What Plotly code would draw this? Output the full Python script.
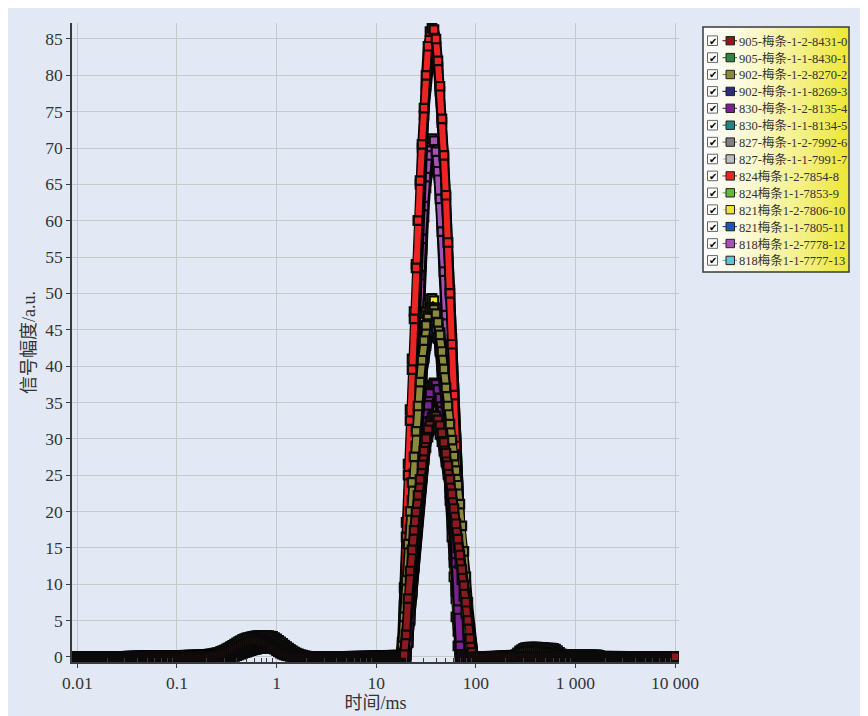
import numpy as np
import plotly.graph_objects as go

# T2 sampling grid of the inversion (ms), 50 points per decade
T2_GRID = np.logspace(-2, 4, 301)

SERIES_NAMES = [
    "905-梅条-1-2-8431-0", "905-梅条-1-1-8430-1", "902-梅条-1-2-8270-2",
    "902-梅条-1-1-8269-3", "830-梅条-1-2-8135-4", "830-梅条-1-1-8134-5",
    "827-梅条-1-2-7992-6", "827-梅条-1-1-7991-7", "824梅条1-2-7854-8",
    "824梅条1-1-7853-9", "821梅条1-2-7806-10", "821梅条1-1-7805-11",
    "818梅条1-2-7778-12", "818梅条1-1-7777-13",
]

# first T2 value (ms) of each stored segment; everything else is 0
BUMP_A_FROM = 0.1585
PEAK_FROM = 15.85
BUMP_B_FROM = 239.9

# small component around 1 ms
bump_a_0 = [0]*8 + [0.04,0.08,0.13,0.19,0.26,0.34,0.43,0.53,0.64,0.76,0.89,1.03,1.18,1.33,1.48,1.63,1.77,1.9,2.01,2.1,2.16,2.2,2.2,2.19,2.15,2.08,1.98,1.85,1.7,1.53,1.35,1.16,0.97,0.79,0.62,0.47,0.35,0.25,0.17,0.11,0.06,0.03,0.01]
bump_a_1 = [0]*10 + [0.04,0.08,0.13,0.19,0.26,0.34,0.43,0.53,0.64,0.76,0.89,1.02,1.15,1.28,1.41,1.53,1.64,1.73,1.8,1.85,1.88,1.9,1.9,1.88,1.84,1.77,1.68,1.56,1.42,1.27,1.1,0.93,0.76,0.6,0.46,0.34,0.24,0.16,0.1,0.05,0.02,0.01]
bump_a_2 = [0]*4 + [0.03,0.06,0.1,0.15,0.21,0.28,0.36,0.45,0.55,0.66,0.78,0.91,1.05,1.2,1.36,1.53,1.7,1.87,2.03,2.18,2.31,2.42,2.51,2.57,2.6,2.6,2.58,2.53,2.45,2.34,2.2,2.03,1.84,1.63,1.41,1.19,0.98,0.78,0.61,0.46,0.34,0.25,0.18,0.12,0.08,0.05,0.03,0.02,0.01,0.01]
bump_a_3 = [0]*6 + [0.04,0.08,0.13,0.19,0.26,0.34,0.43,0.53,0.64,0.76,0.89,1.03,1.18,1.34,1.5,1.66,1.82,1.97,2.1,2.21,2.3,2.36,2.4,2.4,2.38,2.33,2.25,2.14,2.0,1.84,1.66,1.46,1.25,1.04,0.84,0.66,0.5,0.37,0.27,0.19,0.13,0.08,0.05,0.03,0.02,0.01]
bump_a_4 = [0.05,0.1,0.15,0.2,0.25,0.3,0.35,0.4,0.45,0.5,0.55,0.6,0.7,0.8,0.9,1.05,1.2,1.35,1.5,1.65,1.8,1.95,2.1,2.25,2.4,2.5,2.6,2.7,2.8,2.85,2.9,2.9,2.9,2.9,2.9,2.9,2.9,2.85,2.8,2.65,2.45,2.25,2.05,1.85,1.6,1.4,1.2,1.0,0.8,0.65,0.5,0.4,0.3,0.22,0.15,0.1,0.05,0]
bump_a_5 = [0]*2 + [0.03,0.06,0.1,0.14,0.19,0.25,0.32,0.4,0.49,0.59,0.7,0.82,0.95,1.09,1.24,1.4,1.57,1.74,1.91,2.08,2.24,2.38,2.5,2.59,2.65,2.69,2.7,2.7,2.68,2.63,2.55,2.44,2.3,2.13,1.94,1.73,1.51,1.29,1.08,0.88,0.7,0.54,0.41,0.31,0.23,0.17,0.12,0.08,0.05,0.03,0.02,0.01]
bump_a_6 = [0]*14 + [0.05,0.1,0.18,0.26,0.35,0.45,0.55,0.66,0.77,0.88,0.99,1.1,1.2,1.28,1.35,1.41,1.45,1.48,1.5,1.5,1.49,1.46,1.41,1.34,1.25,1.14,1.02,0.89,0.76,0.63,0.51,0.4,0.3,0.21,0.14,0.08,0.04,0.01]
bump_a_7 = [0]*12 + [0.04,0.09,0.15,0.22,0.3,0.39,0.49,0.6,0.72,0.84,0.96,1.08,1.2,1.31,1.41,1.5,1.57,1.63,1.67,1.7,1.7,1.69,1.66,1.6,1.52,1.42,1.3,1.16,1.01,0.86,0.71,0.57,0.44,0.33,0.23,0.15,0.09,0.05,0.02,0.01]
bump_a_8 = [0]*17 + [0.05,0.12,0.2,0.3,0.4,0.5,0.6,0.7,0.8,0.9,1.0,1.08,1.15,1.21,1.26,1.3,1.33,1.35,1.35,1.34,1.3,1.24,1.16,1.06,0.95,0.84,0.72,0.6,0.5,0.4,0.31,0.23,0.16,0.1,0.05,0.02]
bump_a_9 = [0]*19 + [0.05,0.15,0.25,0.35,0.45,0.55,0.65,0.75,0.85,0.93,1.0,1.06,1.1,1.14,1.17,1.19,1.2,1.2,1.18,1.14,1.08,1.0,0.9,0.8,0.7,0.6,0.5,0.4,0.32,0.25,0.18,0.12,0.07,0.03]
bump_a_10 = [0]*10 + [0.05,0.1,0.16,0.23,0.31,0.4,0.5,0.61,0.73,0.86,1.0,1.14,1.28,1.42,1.55,1.67,1.77,1.86,1.93,1.97,2.0,2.0,1.99,1.96,1.9,1.82,1.71,1.58,1.43,1.27,1.1,0.92,0.75,0.59,0.45,0.33,0.23,0.15,0.09,0.05,0.02,0.01]
bump_a_11 = [0]*12 + [0.05,0.1,0.17,0.25,0.34,0.44,0.55,0.67,0.79,0.92,1.05,1.18,1.3,1.42,1.52,1.61,1.68,1.74,1.78,1.8,1.8,1.79,1.75,1.69,1.6,1.49,1.36,1.22,1.07,0.91,0.76,0.61,0.48,0.36,0.26,0.17,0.1,0.05,0.02,0.01]
bump_a_12 = [0]*14 + [0.04,0.1,0.17,0.25,0.34,0.44,0.55,0.67,0.79,0.91,1.03,1.15,1.26,1.36,1.44,1.5,1.55,1.58,1.6,1.6,1.59,1.56,1.5,1.42,1.32,1.2,1.07,0.93,0.79,0.65,0.52,0.4,0.3,0.21,0.14,0.08,0.04,0.01]
bump_a_13 = [0]*7 + [0.03,0.07,0.12,0.18,0.25,0.33,0.42,0.52,0.63,0.75,0.88,1.02,1.17,1.32,1.48,1.64,1.79,1.93,2.05,2.15,2.22,2.27,2.3,2.3,2.28,2.23,2.15,2.04,1.9,1.74,1.56,1.37,1.17,0.98,0.8,0.63,0.48,0.36,0.26,0.18,0.12,0.07,0.04,0.02,0.01]

# main peak, 15.85 ms to 100 ms
peak_0 = [0,0,0,0,0.3,3.0,8.0,11.8,14.7,17.4,19.9,22.2,24.4,26.4,28.3,30.0,31.4,32.4,33.0,33.2,33.1,32.6,31.8,30.8,29.5,28.0,26.3,24.4,22.4,20.4,18.3,16.2,14.0,12.0,9.8,7.5,5.0,2.5,0.6,0,0]
peak_1 = [0,0,0,0,0.5,3.0,6.8,10.2,13.2,16.0,18.5,20.9,23.1,25.2,27.1,28.8,30.2,31.2,31.8,32.0,31.9,31.4,30.6,29.6,28.3,26.8,25.1,23.2,21.2,19.2,17.1,15.0,12.8,10.6,8.3,6.0,3.6,1.5,0.2,0,0]
peak_2 = [0,0,0,1.5,5.5,10.5,15.5,20.0,24.0,27.5,31.0,34.5,37.8,40.8,43.5,45.6,47.0,47.8,48.0,47.8,47.2,46.0,44.3,42.0,39.6,37.0,34.5,32.0,29.8,27.6,25.6,23.6,21.0,18.0,14.5,11.0,7.5,4.0,1.2,0,0]
peak_3 = [0,0,0,0.5,3.5,8.0,13.0,17.5,21.5,25.2,28.8,32.3,35.6,38.6,41.2,43.3,44.8,45.7,46.0,45.8,45.1,43.9,42.2,40.0,37.5,34.8,32.0,29.3,26.8,24.4,22.0,19.6,17.0,14.0,10.8,7.5,4.3,1.5,0,0,0]
peak_4 = [0,0,0,0,0,0.3,2.0,5.2,9.0,12.8,16.5,20.0,23.4,26.6,29.6,32.3,34.6,36.3,37.4,37.7,37.5,36.8,35.6,33.8,31.6,29.2,26.8,24.5,22.0,18.5,13.0,6.5,1.5,0,0,0,0,0,0,0,0]
peak_5 = [0,0,0,0,0,0.3,2.0,5.0,8.6,12.3,15.9,19.3,22.6,25.8,28.7,31.3,33.5,35.2,36.2,36.5,36.3,35.7,34.5,32.8,30.7,28.4,26.0,23.6,21.0,17.5,12.5,6.5,1.8,0,0,0,0,0,0,0,0]
peak_6 = [0,0,0,0,0,0,3.0,10.0,17.0,23.5,29.0,33.5,37.0,40.0,42.5,44.3,45.5,46.2,46.5,46.5,46.2,45.6,44.6,43.0,40.5,37.0,32.5,27.0,21.0,15.0,9.5,5.0,1.8,0.3,0,0,0,0,0,0,0]
peak_7 = [0,0,0,0,0,0,2.0,8.5,15.5,22.0,27.5,32.0,35.6,38.6,41.0,42.8,44.0,44.8,45.0,45.0,44.6,43.8,42.5,40.6,38.0,34.5,30.0,25.0,19.5,14.0,9.0,5.0,2.0,0.5,0,0,0,0,0,0,0]
peak_8 = [0,0,0,0.5,7.0,16.5,25.0,32.5,39.5,46.5,53.5,60.0,65.5,70.5,75.5,80.0,84.0,86.0,86.5,86.3,85.0,82.0,78.5,74.0,69.0,63.5,57.0,50.0,43.0,36.0,29.0,21.5,14.0,7.0,2.0,0,0,0,0,0,0]
peak_9 = [0,0,0,2.0,9.5,18.5,26.5,34.0,41.0,47.5,54.0,60.0,65.0,70.0,74.5,78.5,82.5,84.8,85.5,85.2,84.0,81.2,77.8,73.5,68.6,63.2,57.0,50.5,43.8,37.0,30.0,23.0,15.5,8.5,3.0,0.3,0,0,0,0,0]
peak_10 = [0,0,0,0,1.0,7.0,16.0,24.0,30.0,34.5,37.5,40.0,42.0,44.0,46.0,47.5,48.5,49.2,49.3,49.0,48.0,46.0,43.5,40.0,36.0,31.5,26.5,21.5,16.5,11.0,5.5,1.5,0,0,0,0,0,0,0,0,0]
peak_11 = [0,0,0,0,1.5,8.0,16.5,24.0,29.5,33.5,36.5,39.0,41.0,43.0,44.8,46.0,47.0,47.5,47.5,47.0,46.0,44.3,42.0,39.0,35.5,31.5,27.0,22.5,18.0,13.0,8.0,3.5,0.8,0,0,0,0,0,0,0,0]
peak_12 = [0,0,0,0,0,2.5,10.0,18.0,25.5,33.0,40.0,46.5,52.5,57.5,62.0,66.0,69.0,70.8,71.3,71.0,69.5,66.8,63.0,58.5,53.0,47.0,40.5,33.5,26.0,18.5,11.0,4.5,0.5,0,0,0,0,0,0,0,0]
peak_13 = [0,0,0,0,0,1.5,8.5,16.5,24.0,31.5,38.5,45.0,51.0,56.0,60.5,64.5,67.5,69.4,70.0,69.9,68.8,66.6,63.5,59.5,54.8,49.5,43.5,37.0,30.0,22.5,15.0,8.0,2.5,0.2,0,0,0,0,0,0,0]

# late component, 240 ms to 2 s
bump_b_2 = [0,0.1,0.25,0.4,0.55,0.65,0.72,0.77,0.8,0.8,0.79,0.77,0.74,0.7,0.66,0.62,0.58,0.54,0.5,0.44,0.36,0.26,0.16,0.1,0.05]
bump_b_3 = [0,0.05,0.15,0.3,0.42,0.5,0.55,0.58,0.6,0.6,0.58,0.55,0.5,0.45,0.4,0.35,0.3,0.26,0.22,0.17,0.12,0.08,0.04]
bump_b_6 = [0.1,0.3,0.55,0.8,1.0,1.15,1.25,1.3,1.32,1.33,1.33,1.33,1.32,1.3,1.28,1.25,1.22,1.2,1.2,1.18,1.15,1.05,0.85,0.6,0.4,0.3,0.25,0.25,0.25,0.25,0.25,0.25,0.25,0.25,0.25,0.25,0.25,0.25,0.25,0.25,0.25,0.25,0.25,0.2]
bump_b_7 = [0.05,0.2,0.4,0.6,0.75,0.85,0.92,0.96,0.98,1.0,1.0,0.99,0.97,0.95,0.92,0.88,0.84,0.8,0.76,0.7,0.6,0.45,0.3,0.18,0.1,0.05]

BUMP_A = [bump_a_0, bump_a_1, bump_a_2, bump_a_3, bump_a_4, bump_a_5, bump_a_6,
          bump_a_7, bump_a_8, bump_a_9, bump_a_10, bump_a_11, bump_a_12, bump_a_13]
PEAKS = [peak_0, peak_1, peak_2, peak_3, peak_4, peak_5, peak_6,
         peak_7, peak_8, peak_9, peak_10, peak_11, peak_12, peak_13]
BUMP_B = {2: bump_b_2, 3: bump_b_3, 6: bump_b_6, 7: bump_b_7}

COLORS = ["#8B1A1E", "#2E8540", "#8A8A3C", "#2C2C78", "#7A2290", "#1F8585", "#7F7F86",
          "#BDBDC2", "#EE2424", "#66B83C", "#EDE43A", "#2255B0", "#A452B4", "#5CC6D4"]

BG = "#E2E9F5"
FONT = "Liberation Serif, Noto Sans CJK SC, serif"


def grid_index(t_ms):
    return int(round((np.log10(t_ms) + 2) * 50))


def amplitude(i):
    y = np.zeros(len(T2_GRID))
    for start, seg in ((BUMP_A_FROM, BUMP_A[i]), (PEAK_FROM, PEAKS[i]),
                       (BUMP_B_FROM, BUMP_B.get(i, []))):
        k = grid_index(start)
        y[k:k + len(seg)] = seg
    return y


fig = go.Figure()

# draw last series first so that series 0 ends up on top
for i in reversed(range(len(SERIES_NAMES))):
    y = amplitude(i)
    fig.add_trace(go.Scatter(x=T2_GRID, y=y, mode="lines", hoverinfo="skip",
                             line=dict(color="black", width=10), showlegend=False))
    fig.add_trace(go.Scatter(
        x=T2_GRID, y=y, mode="lines+markers", name=SERIES_NAMES[i], showlegend=False,
        line=dict(color=COLORS[i], width=6),
        marker=dict(symbol="square", size=8.5, color=COLORS[i],
                    line=dict(color="#0a0a0a", width=2.2)),
    ))

# page has an 8px body margin; figure is 856x708, plot area on screen x 72..679, y 23..662
W, H = 856, 708
SX0, SX1, SY0, SY1 = 72, 679, 23, 662


def px(x):
    return (x - SX0) / (SX1 - SX0)


def py(y):
    return (SY1 - y) / (SY1 - SY0)


shapes = []

# legend box with white-to-yellow gradient
lx0, lx1, ly0, ly1 = 703, 849, 27, 272
n_strip = 30
for s in range(n_strip):
    f = (s / (n_strip - 1)) ** 1.3
    col = "rgb(%d,%d,%d)" % (255 - 17 * f, 255 - 24 * f, 255 - 200 * f)
    xa = lx0 + (lx1 - lx0) * s / n_strip
    xb = lx0 + (lx1 - lx0) * (s + 1) / n_strip + 0.6
    shapes.append(dict(type="rect", xref="paper", yref="paper", layer="above",
                       x0=px(xa), x1=px(min(xb, lx1)), y0=py(ly1), y1=py(ly0),
                       fillcolor=col, line=dict(width=0)))
shapes.append(dict(type="rect", xref="paper", yref="paper", layer="above",
                   x0=px(lx0), x1=px(lx1), y0=py(ly1), y1=py(ly0),
                   line=dict(color="#3a3a3a", width=1.5)))

annotations = []
for i, name in enumerate(SERIES_NAMES):
    yc = 40.7 + 16.9 * i
    shapes.append(dict(type="rect", xref="paper", yref="paper", layer="above",
                       x0=px(707.5), x1=px(717.5), y0=py(yc + 4.8), y1=py(yc - 4.8),
                       fillcolor="white", line=dict(color="#666666", width=1)))
    shapes.append(dict(type="line", xref="paper", yref="paper", layer="above",
                       x0=px(722.5), x1=px(737), y0=py(yc), y1=py(yc),
                       line=dict(color=COLORS[i], width=1.2)))
    shapes.append(dict(type="rect", xref="paper", yref="paper", layer="above",
                       x0=px(726), x1=px(734.5), y0=py(yc + 4.2), y1=py(yc - 4.2),
                       fillcolor=COLORS[i], line=dict(color="#222222", width=1)))
    annotations.append(dict(x=px(712.6), y=py(yc + 0.5), xref="paper", yref="paper",
                            text="✔", showarrow=False, xanchor="center", yanchor="middle",
                            font=dict(family="DejaVu Sans", size=10, color="black")))
    annotations.append(dict(x=px(736.5), y=py(yc + 0.5), xref="paper", yref="paper",
                            text=name, showarrow=False, xanchor="left", yanchor="middle",
                            font=dict(family=FONT, size=12.5, color="#333333")))

major = [0.01, 0.1, 1, 10, 100, 1000, 10000]
minor = [m * d for d in major[:-1] for m in range(2, 10)]

fig.update_layout(
    width=W, height=H,
    margin=dict(l=SX0 - 8, r=W - (SX1 - 8), t=SY0 - 8, b=H - (SY1 - 8), autoexpand=False),
    paper_bgcolor=BG, plot_bgcolor=BG,
    font=dict(family=FONT, size=17.5, color="#333333"),
    showlegend=False,
    shapes=shapes, annotations=annotations,
    xaxis=dict(
        type="log", range=[-2.054, 4.040], automargin=False,
        tickvals=major, ticktext=["0.01", "0.1", "1", "10", "100", "1 000", "10 000"],
        showgrid=True, gridcolor="#C6C8CC", gridwidth=1, zeroline=False,
        showline=True, linecolor="#3a3a3a", linewidth=1.5,
        ticks="outside", ticklen=4, tickcolor="#3a3a3a",
        minor=dict(tickvals=minor, ticks="inside", ticklen=4, tickcolor="#3a3a3a", showgrid=False),
        title=dict(text="时间/ms", font=dict(size=18), standoff=2),
    ),
    yaxis=dict(
        range=[-0.72, 87.2], tick0=0, dtick=5, automargin=False,
        showgrid=True, gridcolor="#C6C8CC", gridwidth=1, zeroline=False,
        showline=True, linecolor="#3a3a3a", linewidth=1.5,
        ticks="outside", ticklen=4, tickcolor="#3a3a3a",
        title=dict(text="信号幅度/a.u.", font=dict(size=18), standoff=5),
    ),
)

fig.write_html("out.html")
